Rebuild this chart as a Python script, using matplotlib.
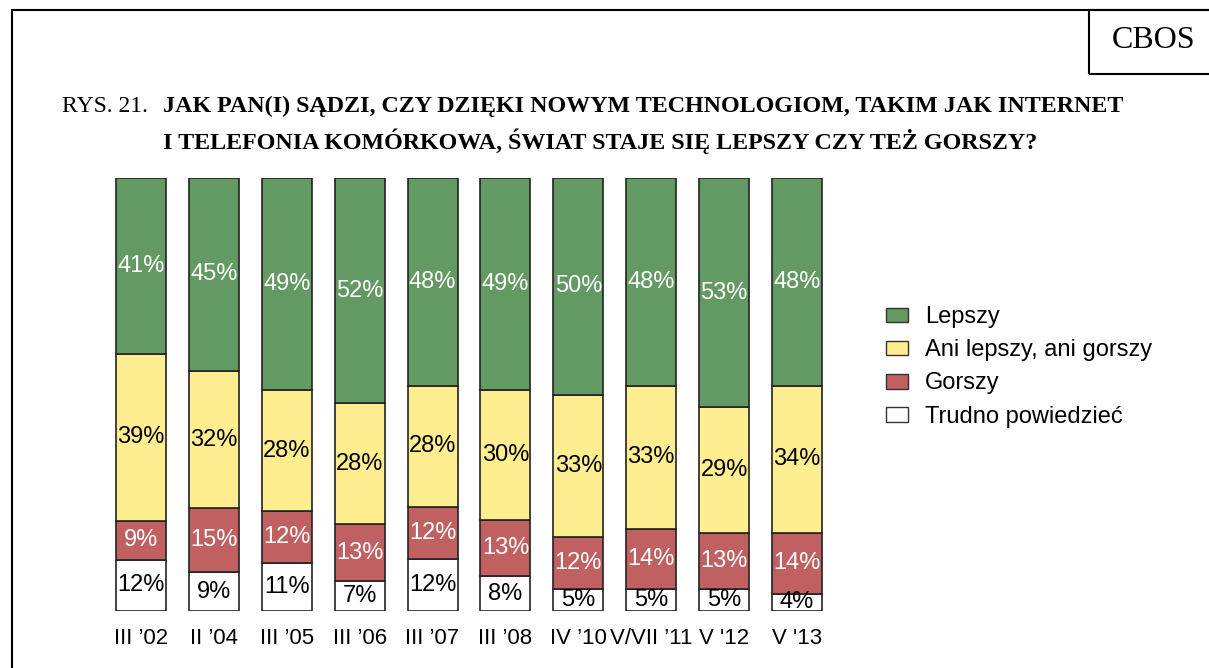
import matplotlib
matplotlib.use("Agg")
import matplotlib.pyplot as plt
from matplotlib.patches import Rectangle, Patch
import numpy as np

categories = ["III \u201902", "II \u201904", "III \u201905", "III \u201906", "III \u201907", "III \u201908",
              "IV \u201910", "V/VII \u201911", "V '12", "V '13"]
lepszy = [41, 45, 49, 52, 48, 49, 50, 48, 53, 48]
ani = [39, 32, 28, 28, 28, 30, 33, 33, 29, 34]
gorszy = [9, 15, 12, 13, 12, 13, 12, 14, 13, 14]
trudno = [12, 9, 11, 7, 12, 8, 5, 5, 5, 4]
series_names = ["Lepszy", "Ani lepszy, ani gorszy", "Gorszy", "Trudno powiedzieć"]

colors = ["#639a63", "#ffee90", "#c06060", "#ffffff"]
txt_colors = ["white", "black", "white", "black"]

W, H = 1209, 668
fig = plt.figure(figsize=(W / 100, H / 100), dpi=100)
plt.rcParams['font.family'] = ['Liberation Sans', 'DejaVu Sans']

# outer frame
fig.add_artist(Rectangle((12 / W, -0.01), 1.2, 1 - 10 / H + 0.01, transform=fig.transFigure,
                         fill=False, edgecolor="black", linewidth=1.5))
# CBOS box
fig.add_artist(Rectangle((1089 / W, 1 - 74 / H), 0.2, 64 / H, transform=fig.transFigure,
                         fill=False, edgecolor="black", linewidth=1.5))
fig.text(1154 / W, 1 - 41 / H, "CBOS", family="Liberation Serif", fontsize=23,
         ha="center", va="center")

fig.text(62 / W, 1 - 106 / H, "RYS. 21.", family="Liberation Serif", fontsize=17,
         ha="left", va="center")
fig.text(163 / W, 1 - 106 / H, "JAK PAN(I) SĄDZI, CZY DZIĘKI NOWYM TECHNOLOGIOM, TAKIM JAK INTERNET",
         family="Liberation Serif", fontsize=17.3, fontweight="bold", ha="left", va="center")
fig.text(163 / W, 1 - 141 / H, "I TELEFONIA KOMÓRKOWA, ŚWIAT STAJE SIĘ LEPSZY CZY TEŻ GORSZY?",
         family="Liberation Serif", fontsize=17.3, fontweight="bold", ha="left", va="center")

x0, x1 = 104.5 / W, 833.5 / W
yb, yt = 1 - 611 / H, 1 - 178 / H
ax = fig.add_axes([x0, yb, x1 - x0, yt - yb])

data = np.array([lepszy, ani, gorszy, trudno], dtype=float)
tot = data.sum(axis=0)
norm = data / tot * 100
x = np.arange(len(categories))
order = [3, 2, 1, 0]
bottom = np.zeros(len(categories))
for i in order:
    ax.bar(x, norm[i], 0.685, bottom=bottom, color=colors[i], edgecolor="#222222", linewidth=1.2)
    for j in range(len(categories)):
        ax.text(x[j], bottom[j] + norm[i][j] / 2, f"{int(data[i][j])}%", ha="center", va="center",
                fontsize=17, color=txt_colors[i])
    bottom += norm[i]

ax.set_xlim(-0.5, len(categories) - 0.5)
ax.set_ylim(0, 100)
ax.set_xticks(x)
ax.set_xticklabels(categories, fontsize=16)
ax.tick_params(axis="x", length=0, pad=12)
ax.set_yticks([])
for s in ax.spines.values():
    s.set_visible(False)

handles = [Patch(facecolor=colors[i], edgecolor="#333333", linewidth=1) for i in range(4)]
fig.legend(handles, series_names, loc="upper left", bbox_to_anchor=(865 / W, 1 - 285 / H),
           frameon=False, fontsize=17, handlelength=0.93, handleheight=0.59, handletextpad=0.72,
           labelspacing=0.47)

fig.savefig("out.png", dpi=100)
